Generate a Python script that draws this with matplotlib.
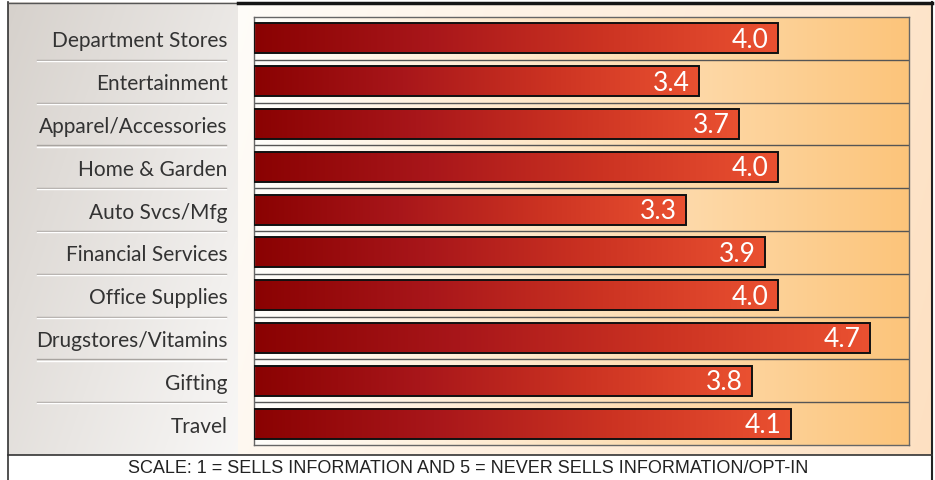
import numpy as np
import matplotlib
matplotlib.use("Agg")
import matplotlib.pyplot as plt
from matplotlib.colors import LinearSegmentedColormap
from matplotlib.transforms import blended_transform_factory

categories = ["Department Stores", "Entertainment", "Apparel/Accessories", "Home & Garden",
              "Auto Svcs/Mfg", "Financial Services", "Office Supplies",
              "Drugstores/Vitamins", "Gifting", "Travel"]
values = [4.0, 3.4, 3.7, 4.0, 3.3, 3.9, 4.0, 4.7, 3.8, 4.1]
caption = "SCALE: 1 = SELLS INFORMATION AND 5 = NEVER SELLS INFORMATION/OPT-IN"

W, H = 935, 481
fig = plt.figure(figsize=(W / 100, H / 100), dpi=100)
fig.patch.set_facecolor("white")

bg = fig.add_axes([0, 0, 1, 1])
bg.set_xlim(0, W)
bg.set_ylim(H, 0)
bg.axis("off")

# left grey panel: diagonal gradient
ny, nx = 100, 100
yy, xx = np.mgrid[0:1:ny * 1j, 0:1:nx * 1j]
t = (xx * 0.6 + yy * 0.4)
c0 = np.array([0.84, 0.82, 0.80])
c1 = np.array([0.975, 0.97, 0.965])
img = c0[None, None, :] * (1 - t[..., None]) + c1[None, None, :] * t[..., None]
bg.imshow(img, extent=(8, 238, 456, 3), aspect="auto", zorder=0, interpolation="bilinear")

# right peach panel
t2 = np.clip(xx * 0.85 + yy * 0.15, 0, 1)
d0 = np.array([1.0, 0.99, 0.975])
d1 = np.array([0.995, 0.88, 0.76])
img2 = d0[None, None, :] * (1 - t2[..., None]) + d1[None, None, :] * t2[..., None]
bg.imshow(img2, extent=(238, 933, 456, 3), aspect="auto", zorder=0, interpolation="bilinear")

# borders
bg.plot([8, 8], [3, H], color="#333333", lw=1.2, zorder=2)
bg.plot([932, 932], [3, H], color="#222222", lw=1.5, zorder=2)
bg.plot([8, 238], [3.5, 3.5], color="#555555", lw=1.0, zorder=2)
bg.plot([238, 932], [4, 4], color="#151515", lw=2.5, zorder=2)
bg.plot([8, 932], [456, 456], color="#333333", lw=1.2, zorder=2)

bg.text(468, 469, caption, ha="center", va="center", fontsize=13,
        family="Liberation Sans", color="#222222")

# main axes
ax = fig.add_axes([254 / W, (H - 446) / H, 655 / W, 428 / H])
n = len(categories)
ax.set_xlim(0, 5)
ax.set_ylim(n - 0.5, -0.5)

# plot area background gradient
gx = np.linspace(0, 1, 256)
e0 = np.array([1.0, 0.995, 0.985])
e1 = np.array([0.99, 0.77, 0.48])
gimg = e0[None, None, :] * (1 - gx[None, :, None] ** 1.1) + e1[None, None, :] * (gx[None, :, None] ** 1.1)
ax.imshow(gimg, extent=(0, 5, n - 0.5, -0.5), aspect="auto", zorder=0)

bar_cmap = LinearSegmentedColormap.from_list("bar", ["#8a0202", "#a8161a", "#cc3322", "#ea5131"])
h = 0.70
ypos = np.arange(n)
bars = ax.barh(ypos, values, height=h, facecolor="none", edgecolor="#111111", lw=1.4, zorder=3)
grad = np.linspace(0, 1, 256)[None, :]
for b, v in zip(bars, values):
    im = ax.imshow(grad, cmap=bar_cmap, extent=(0, v, b.get_y() + h, b.get_y()),
                   aspect="auto", zorder=2)
    im.set_clip_path(b)

for y, v in zip(ypos, values):
    ax.text(v - 0.07, y + 0.02, f"{v:.1f}", ha="right", va="center", color="white",
            fontsize=19, family="Lato", zorder=4)

ax.hlines(ypos[:-1] + 0.5, 0, 5, color="#555555", lw=1.0, zorder=1)
for s in ax.spines.values():
    s.set_color("#666666")
    s.set_linewidth(1.0)

ax.set_yticks(ypos, categories)
ax.tick_params(axis="y", length=0, pad=19, labelsize=15, labelcolor="#333333")
for lab in ax.get_yticklabels():
    lab.set_family("Lato")
ax.set_xticks([])

# left separators
tr = blended_transform_factory(bg.transData, ax.transData)
for y in ypos[:-1] + 0.5:
    ax.plot([37, 226], [y, y], color="#a8a4a0", lw=1.0, transform=tr, clip_on=False, zorder=5)
    ax.plot([37, 226], [y + 0.03, y + 0.03], color="#ffffff", lw=1.0, transform=tr, clip_on=False, zorder=5)

fig.savefig("out.png", dpi=100)
